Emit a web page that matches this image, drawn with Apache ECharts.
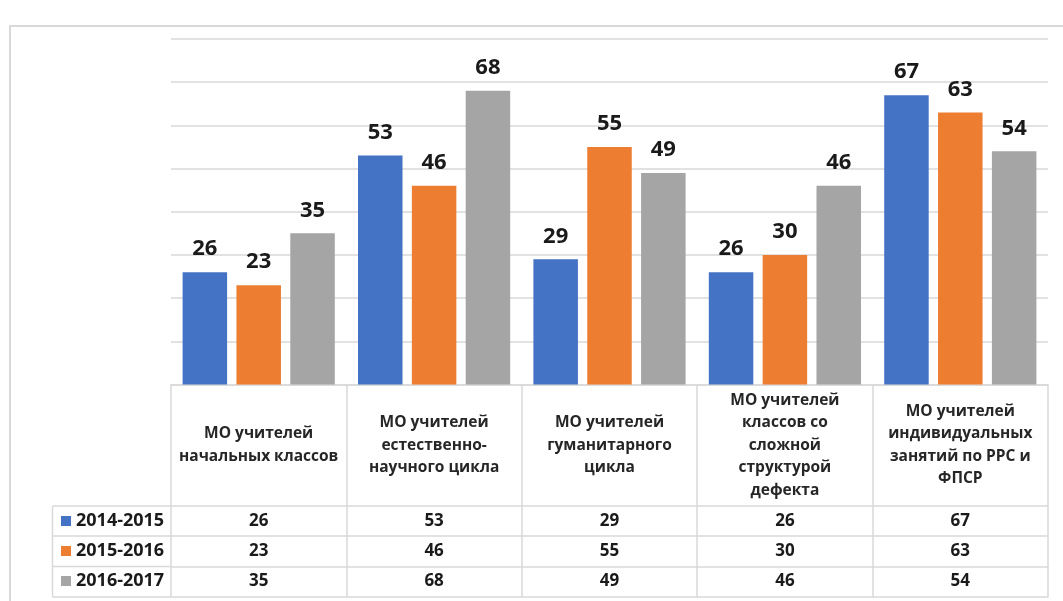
<!DOCTYPE html>
<html>
<head>
<meta charset="utf-8">
<script src="https://cdn.jsdelivr.net/npm/echarts@6/dist/echarts.min.js"></script>
<style>
html,body{margin:0;padding:0;background:#fff;}
#chart{width:1063px;height:601px;}
</style>
</head>
<body>
<div id="chart"></div>
<script>
// ---- data ----
const categories = [
  'МО учителей\nначальных классов',
  'МО учителей\nестественно-\nнаучного цикла',
  'МО учителей\nгуманитарного\nцикла',
  'МО учителей\nклассов со\nсложной\nструктурой\nдефекта',
  'МО учителей\nиндивидуальных\nзанятий по РРС и\nФПСР'
];
const seriesNames = ['2014-2015', '2015-2016', '2016-2017'];
const s2014 = [26, 53, 29, 26, 67];
const s2015 = [23, 46, 55, 30, 63];
const s2016 = [35, 68, 49, 46, 54];
const seriesValues = [s2014, s2015, s2016];
const colors = ['#4472C4', '#ED7D31', '#A5A5A5'];

// ---- layout ----
const FONT = '"Open Sans", "Liberation Sans", sans-serif';
const LINE = '#d9d9d9';
const gridLeft = 171, gridTop = 39, baseY = 384.5;
const rowLines = [506, 536, 566.5, 597];

const chart = echarts.init(document.getElementById('chart'));

const rowAxes = rowLines.map((y, r) => ({
  type: 'category',
  position: 'bottom',
  offset: y - baseY,
  data: categories,
  axisLine: { show: true, lineStyle: { color: LINE, width: 1.5 } },
  axisTick: { show: false },
  axisLabel: {
    show: r < seriesValues.length,
    interval: 0,
    margin: 15,
    verticalAlign: 'middle',
    fontFamily: FONT,
    fontSize: 17,
    fontWeight: 'bold',
    color: '#1a1a1a',
    formatter: (v, i) => r < seriesValues.length ? String(seriesValues[r][i]) : ''
  },
  splitLine: { show: false }
}));

const option = {
  animation: false,
  color: colors,
  grid: { left: gridLeft, right: 1063 - 1048, top: gridTop, bottom: 601 - baseY, containLabel: false },
  legend: {
    orient: 'vertical',
    left: 61,
    top: 511,
    padding: 0,
    itemWidth: 10,
    itemHeight: 10,
    itemGap: 10,
    icon: 'rect',
    data: seriesNames,
    textStyle: { fontFamily: FONT, fontSize: 18, fontWeight: 'bold', color: '#1a1a1a', lineHeight: 20 }
  },
  xAxis: [{
    type: 'category',
    data: categories,
    position: 'bottom',
    boundaryGap: true,
    axisLine: { show: true, lineStyle: { color: LINE, width: 1.5 } },
    axisTick: { show: true, interval: 0, alignWithLabel: false, length: 597 - baseY, lineStyle: { color: LINE, width: 1.5 } },
    axisLabel: {
      interval: 0,
      margin: (rowLines[0] - baseY) / 2,
      verticalAlign: 'middle',
      align: 'center',
      fontFamily: FONT,
      fontSize: 15.5,
      fontWeight: 'bold',
      lineHeight: 22.5,
      color: '#262626'
    }
  }].concat(rowAxes),
  yAxis: {
    type: 'value',
    min: 0,
    max: 80,
    interval: 10,
    axisLabel: { show: false },
    axisLine: { show: false },
    axisTick: { show: false },
    splitLine: { lineStyle: { color: LINE, width: 1.5 } }
  },
  series: seriesNames.map((name, k) => ({
    name: name,
    type: 'bar',
    xAxisIndex: 0,
    data: seriesValues[k],
    barWidth: 44.5,
    barGap: '21%',
    itemStyle: { color: colors[k] },
    label: {
      show: true,
      position: 'top',
      distance: 12,
      fontFamily: FONT,
      fontSize: 22,
      fontWeight: 'bold',
      color: '#1a1a1a'
    }
  })),
  graphic: [
    { type: 'rect', shape: { x: 10, y: 26, width: 1080, height: 620 }, style: { fill: 'none', stroke: LINE, lineWidth: 2 }, silent: true },
    { type: 'line', shape: { x1: 52.5, y1: rowLines[0], x2: 52.5, y2: rowLines[3] }, style: { stroke: LINE, lineWidth: 1.5 } }
  ].concat(rowLines.map(y => ({
    type: 'line', shape: { x1: 52.5, y1: y, x2: gridLeft, y2: y }, style: { stroke: LINE, lineWidth: 1.5 }
  })))
};

chart.setOption(option);
</script>
</body>
</html>
